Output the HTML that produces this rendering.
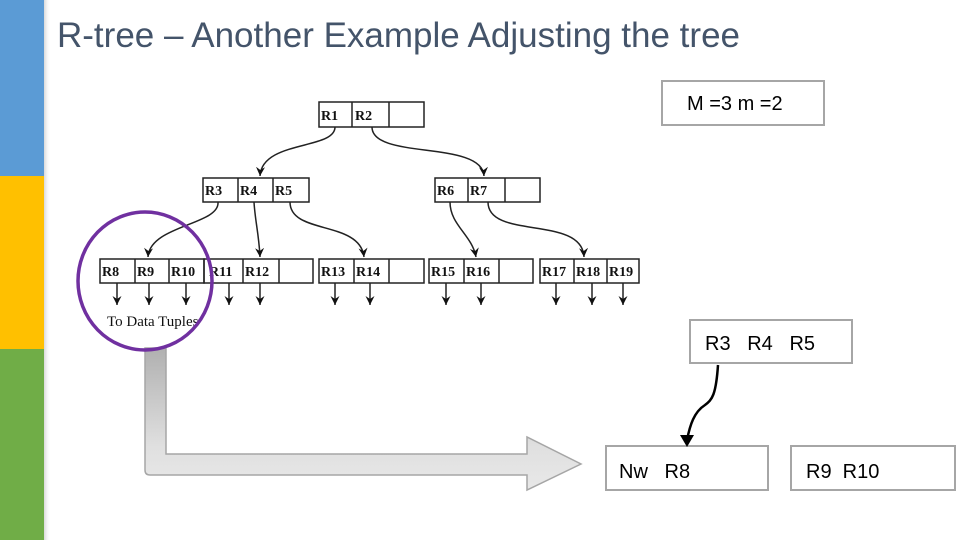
<!DOCTYPE html>
<html><head><meta charset="utf-8"><style>
body{margin:0;width:960px;height:540px;background:#fff;overflow:hidden;position:relative;font-family:"Liberation Sans",sans-serif}
</style></head><body>
<svg width="960" height="540" viewBox="0 0 960 540" style="position:absolute;left:0;top:0">
<defs>
<linearGradient id="side" x1="0" x2="1"><stop offset="0" stop-color="#000" stop-opacity="0.15"/><stop offset="1" stop-color="#fff" stop-opacity="0"/></linearGradient>
<linearGradient id="ag" x1="0" y1="0" x2="0" y2="1"><stop offset="0" stop-color="#b0b0b0"/><stop offset="0.7" stop-color="#e0e0e0"/><stop offset="1" stop-color="#e8e8e8"/></linearGradient>
<marker id="ah" markerWidth="10" markerHeight="10" refX="9" refY="4.5" orient="auto" markerUnits="userSpaceOnUse"><path d="M0,0 L9,4.5 L0,9 L3,4.5 Z" fill="#111"/></marker>
</defs>
<rect x="0" y="0" width="44" height="176" fill="#5b9bd5"/>
<rect x="0" y="176" width="44" height="173" fill="#ffc000"/>
<rect x="0" y="349" width="44" height="191" fill="#70ad47"/>
<rect x="44" y="0" width="7" height="540" fill="url(#side)"/>
<text x="57" y="47" font-size="35" fill="#44546a" textLength="683">R-tree – Another Example Adjusting the tree</text>

<g font-family="Liberation Serif,serif" font-size="14" font-weight="bold" fill="#111" stroke="#222" stroke-width="1.5">
<g fill="none">
<rect x="319" y="102" width="105" height="25"/><line x1="352" y1="102" x2="352" y2="127"/><line x1="389" y1="102" x2="389" y2="127"/>
<rect x="203" y="178" width="106" height="24"/><line x1="238" y1="178" x2="238" y2="202"/><line x1="273" y1="178" x2="273" y2="202"/>
<rect x="435" y="178" width="105" height="24"/><line x1="468" y1="178" x2="468" y2="202"/><line x1="505" y1="178" x2="505" y2="202"/>
<rect x="100" y="259" width="104" height="24"/><line x1="135" y1="259" x2="135" y2="283"/><line x1="169" y1="259" x2="169" y2="283"/>
<rect x="204" y="259" width="109" height="24"/><line x1="243" y1="259" x2="243" y2="283"/><line x1="279" y1="259" x2="279" y2="283"/>
<rect x="319" y="259" width="105" height="24"/><line x1="354" y1="259" x2="354" y2="283"/><line x1="389" y1="259" x2="389" y2="283"/>
<rect x="429" y="259" width="104" height="24"/><line x1="464" y1="259" x2="464" y2="283"/><line x1="499" y1="259" x2="499" y2="283"/>
<rect x="540" y="259" width="99" height="24"/><line x1="574" y1="259" x2="574" y2="283"/><line x1="607" y1="259" x2="607" y2="283"/>
<path d="M335,127 C335,150 262,140 260,176" marker-end="url(#ah)"/>
<path d="M372,127 C372,160 482,140 484,176" marker-end="url(#ah)"/>
<path d="M218,202 C220,225 150,225 148,257" marker-end="url(#ah)"/>
<path d="M254,202 C255,220 259,235 260,257" marker-end="url(#ah)"/>
<path d="M290,202 C290,235 360,220 364,257" marker-end="url(#ah)"/>
<path d="M450,202 C450,225 472,235 476,257" marker-end="url(#ah)"/>
<path d="M488,202 C488,240 582,215 584,257" marker-end="url(#ah)"/>
<line x1="117" y1="283" x2="117" y2="305" marker-end="url(#ah)"/><line x1="149" y1="283" x2="149" y2="305" marker-end="url(#ah)"/><line x1="186" y1="283" x2="186" y2="305" marker-end="url(#ah)"/>
<line x1="229" y1="283" x2="229" y2="305" marker-end="url(#ah)"/><line x1="260" y1="283" x2="260" y2="305" marker-end="url(#ah)"/>
<line x1="335" y1="283" x2="335" y2="305" marker-end="url(#ah)"/><line x1="370" y1="283" x2="370" y2="305" marker-end="url(#ah)"/>
<line x1="446" y1="283" x2="446" y2="305" marker-end="url(#ah)"/><line x1="481" y1="283" x2="481" y2="305" marker-end="url(#ah)"/>
<line x1="556" y1="283" x2="556" y2="305" marker-end="url(#ah)"/><line x1="592" y1="283" x2="592" y2="305" marker-end="url(#ah)"/><line x1="623" y1="283" x2="623" y2="305" marker-end="url(#ah)"/>
</g>
<g stroke="none">
<text x="321" y="120">R1</text><text x="355" y="120">R2</text>
<text x="205" y="195">R3</text><text x="240" y="195">R4</text><text x="275" y="195">R5</text>
<text x="437" y="195">R6</text><text x="470" y="195">R7</text>
<text x="102" y="276">R8</text><text x="137" y="276">R9</text><text x="171" y="276">R10</text>
<text x="209" y="276">R11</text><text x="245" y="276">R12</text>
<text x="321" y="276">R13</text><text x="356" y="276">R14</text>
<text x="431" y="276">R15</text><text x="466" y="276">R16</text>
<text x="542" y="276">R17</text><text x="576" y="276">R18</text><text x="609" y="276">R19</text>
<text x="107" y="326" font-size="15" font-weight="normal">To Data Tuples</text>
</g>
</g>
<path d="M145,348 H166 V454 H527 V437 L581,464 L527,490 V475 H150 Q145,475 145,470 Z" fill="url(#ag)" stroke="#a6a6a6" stroke-width="1.5"/>
<ellipse cx="145" cy="281" rx="67" ry="69" fill="none" stroke="#7030a0" stroke-width="3.5"/>

<g fill="#fff" stroke="#a6a6a6" stroke-width="2">
<rect x="662" y="81" width="162" height="44"/>
<rect x="690" y="320" width="162" height="43"/>
<rect x="606" y="446" width="162" height="44"/>
<rect x="791" y="446" width="164" height="44"/>
</g>
<g font-size="20" fill="#000">
<text x="687" y="110">M =3 m =2</text>
<text x="705" y="350">R3&#160;&#160;&#160;R4&#160;&#160;&#160;R5</text>
<text x="619" y="478">Nw&#160;&#160;&#160;R8</text>
<text x="806" y="478">R9&#160;&#160;R10</text>
</g>
<path d="M718,365 C716,395 712,400 705,405 C694,412 690,425 687,440" fill="none" stroke="#000" stroke-width="2.5"/>
<path d="M680,435 L687,447 L694,435 Z" fill="#000"/>
</svg>
</body></html>
